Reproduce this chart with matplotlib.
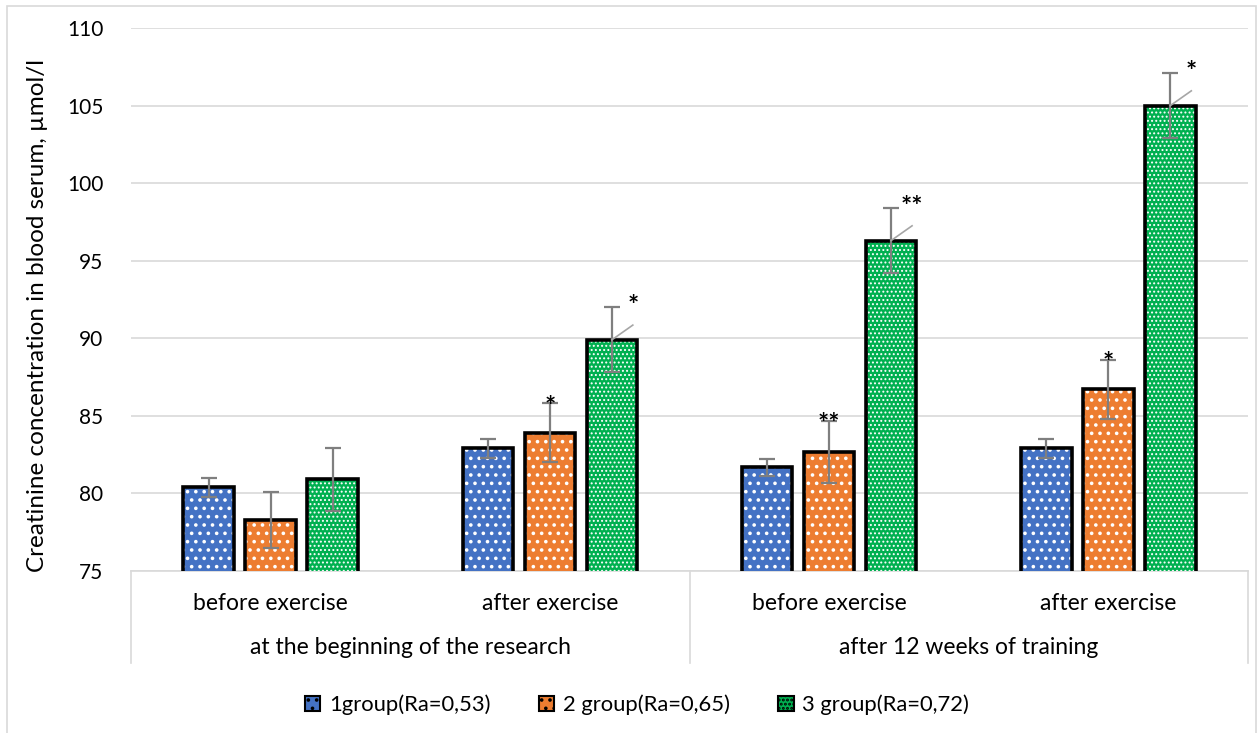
import numpy as np
import matplotlib
matplotlib.use("Agg")
from matplotlib import pyplot as plt
from matplotlib.patches import Patch, Rectangle

plt.rcParams['font.family'] = ['Lato', 'DejaVu Sans']
plt.rcParams['hatch.linewidth'] = 1.4

# data
phases = ["before exercise", "after exercise", "before exercise", "after exercise"]
periods = ["at the beginning of the research", "after 12 weeks of training"]
groups = ["1group(Ra=0,53)", "2 group(Ra=0,65)", "3 group(Ra=0,72)"]
g1 = [80.4, 82.9, 81.7, 82.9]
g2 = [78.3, 83.9, 82.7, 86.7]
g3 = [80.9, 89.9, 96.3, 105.0]
g1_err = [0.6, 0.6, 0.55, 0.6]
g2_err = [1.8, 1.9, 2.0, 1.9]
g3_err = [2.05, 2.1, 2.1, 2.1]
g2_stars = ["", "*", "**", "*"]
g3_stars = ["", "*", "**", "*"]
yticks = [75, 80, 85, 90, 95, 100, 105, 110]

colors = ["#4472c4", "#ed7d31", "#00b050"]
hatches = ["..", "..", "...."]
hatch_lw = [1.4, 1.4, 0.9]

W, H = 1259, 733
fig = plt.figure(figsize=(W/100, H/100), dpi=100)
fig.patches.append(Rectangle((7/W, -0.05), (1256-7)/W, 1.05 - 6/H, transform=fig.transFigure,
                             fill=False, edgecolor="#d9d9d9", linewidth=1.2))

L, R, T, B = 131, 1248, 28, 571
ax = fig.add_axes([L/W, 1-B/H, (R-L)/W, (B-T)/H])

x = np.arange(len(phases))
off = 0.222
bw = 0.18
series = [(g1, g1_err), (g2, g2_err), (g3, g3_err)]
for i, (vals, errs) in enumerate(series):
    xs = x + (i-1)*off
    with plt.rc_context({'hatch.linewidth': hatch_lw[i]}):
        ax.bar(xs, vals, bw, color=colors[i], hatch=hatches[i], edgecolor="white",
               linewidth=0, zorder=2)
    ax.bar(xs, vals, bw, fill=False, edgecolor="black", linewidth=2.6, zorder=3)
    ax.errorbar(xs, vals, yerr=errs, fmt="none", ecolor="#7f7f7f", elinewidth=1.6,
                capsize=6, capthick=1.6, zorder=4)

# significance marks
for j in range(len(phases)):
    if g2_stars[j]:
        ax.text(x[j], g2[j] + g2_err[j] - 0.2, g2_stars[j], ha="center", va="center",
                fontsize=19, fontweight="bold", zorder=5)
    if g3_stars[j]:
        xc = x[j] + off
        ax.plot([xc, xc + 0.075], [g3[j], g3[j] + 0.95], color="#a6a6a6", linewidth=1.2, zorder=5)
        ax.text(xc + 0.075, g3[j] + g3_err[j] + 0.05, g3_stars[j], ha="center", va="center",
                fontsize=19, fontweight="bold", zorder=5)

ax.set_xlim(-0.5, len(phases) - 0.5)
ax.set_ylim(75, 110)
ax.set_yticks(yticks)
ax.tick_params(axis="y", length=0, labelsize=15, pad=20)
ax.set_xticks([])
ax.grid(axis="y", color="#d9d9d9", linewidth=1.2, zorder=0)
for s in ["left", "right", "top"]:
    ax.spines[s].set_visible(False)
ax.spines["bottom"].set_color("#d9d9d9")
ax.spines["bottom"].set_linewidth(1.2)
ax.spines["bottom"].set_zorder(1)

# two-level category axis
tr = ax.get_xaxis_transform()
depth = 92 / (B - T)
for xv in [-0.5, 1.5, 3.5]:
    ax.plot([xv, xv], [0, -depth], transform=tr, color="#d9d9d9", linewidth=1.2, clip_on=False)
for j, lab in enumerate(phases):
    ax.text(x[j], -32/(B-T), lab, transform=tr, ha="center", va="center", fontsize=16.5)
for k, lab in enumerate(periods):
    ax.text(0.5 + 2*k, -77/(B-T), lab, transform=tr, ha="center", va="center", fontsize=16.5)

fig.text(38/W, 1-316/H, "Creatinine concentration in blood serum, µmol/l", rotation=90,
         ha="center", va="center", fontsize=17.5)

handles = []
for i in range(3):
    with plt.rc_context({'hatch.linewidth': hatch_lw[i]}):
        handles.append(Patch(facecolor=colors[i], hatch=hatches[i], edgecolor="black", linewidth=1.5))
fig.legend(handles, groups, loc="center", bbox_to_anchor=(637/W, 1-705/H), ncol=3,
           frameon=False, fontsize=15.8, handlelength=0.7, handleheight=0.7,
           handletextpad=0.4, columnspacing=2.2)

fig.savefig("out.png", dpi=100)
